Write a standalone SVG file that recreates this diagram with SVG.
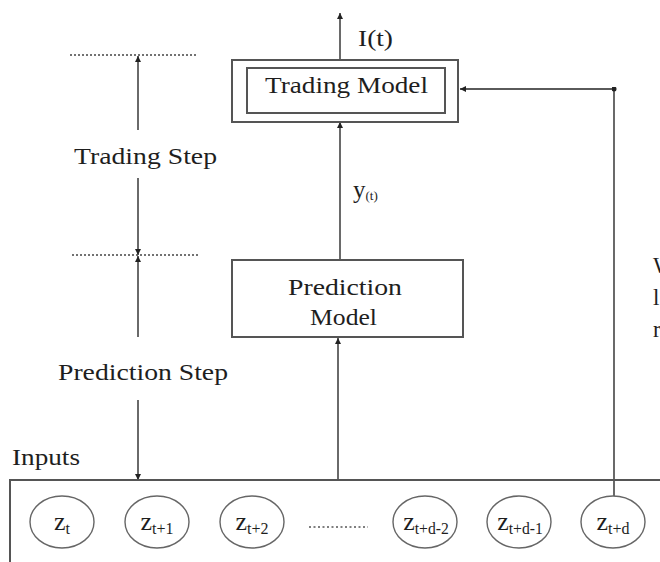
<svg xmlns="http://www.w3.org/2000/svg" width="660" height="562" viewBox="0 0 660 562">
  <style>
    text { font-family: "Liberation Serif", "Times New Roman", serif; fill: #1e1e1e; }
    .lbl { font-size: 23px; }
    .box { fill: none; stroke: #555; stroke-width: 2; }
    .wire { fill: none; stroke: #5a5a5a; stroke-width: 1.8; }
    .guide { fill: none; stroke: #444; stroke-width: 1.6; stroke-dasharray: 2 2; }
    .node { fill: #fff; stroke: #666; stroke-width: 1.4; }
    .zv { font-size: 26px; }
    .zs { font-size: 16px; }
  </style>
  <defs>
    <marker id="tip" viewBox="0 0 10 10" refX="10" refY="5" markerWidth="6" markerHeight="6" orient="auto-start-reverse" markerUnits="userSpaceOnUse">
      <path d="M0,0 L10,5 L0,10 z" fill="#222"/>
    </marker>
    <marker id="dot" viewBox="0 0 10 10" refX="5" refY="5" markerWidth="5" markerHeight="5" markerUnits="userSpaceOnUse">
      <circle cx="5" cy="5" r="5" fill="#222"/>
    </marker>
  </defs>

  <!-- step scale on the left -->
  <g id="step-scale">
    <line class="guide" x1="70" y1="55" x2="198" y2="55"/>
    <line class="guide" x1="72" y1="255" x2="200" y2="255"/>
    <text class="lbl" x="74" y="164" textLength="143" lengthAdjust="spacingAndGlyphs">Trading Step</text>
    <text class="lbl" x="58" y="380" textLength="170" lengthAdjust="spacingAndGlyphs">Prediction Step</text>
  </g>

  <!-- connectors -->
  <g id="connectors">
    <line class="wire" x1="138" y1="130" x2="138" y2="56" marker-end="url(#tip)"/>
    <line class="wire" x1="138" y1="178" x2="138" y2="255" marker-end="url(#tip)"/>
    <line class="wire" x1="138" y1="337" x2="138" y2="256" marker-end="url(#tip)"/>
    <line class="wire" x1="138" y1="400" x2="138" y2="480" marker-end="url(#tip)"/>
    <line class="wire" x1="340" y1="60" x2="340" y2="13" marker-end="url(#tip)"/>
    <line class="wire" x1="340" y1="260" x2="340" y2="122" marker-end="url(#tip)"/>
    <line class="wire" x1="338" y1="480" x2="338" y2="338" marker-end="url(#tip)"/>
    <polyline class="wire" points="614,497 614,89 460,89" marker-mid="url(#dot)" marker-end="url(#tip)"/>
    <text x="358" y="46" font-size="23" textLength="35" lengthAdjust="spacingAndGlyphs">I(t)</text>
    <text x="353" y="198"><tspan font-size="25">y</tspan><tspan font-size="13" dy="2">(t)</tspan></text>
  </g>

  <g id="trading-model">
    <rect class="box" x="232" y="60" width="226" height="62"/>
    <rect class="box" x="247" y="68" width="198" height="45"/>
    <text class="lbl" x="265" y="93" textLength="163" lengthAdjust="spacingAndGlyphs">Trading Model</text>
  </g>

  <g id="prediction-model">
    <rect class="box" x="232" y="260" width="231" height="77"/>
    <text class="lbl" x="288" y="295" textLength="114" lengthAdjust="spacingAndGlyphs">Prediction</text>
    <text class="lbl" x="310" y="325" textLength="67" lengthAdjust="spacingAndGlyphs">Model</text>
  </g>

  <g id="inputs">
    <polyline class="box" points="10,562 10,480 662,480"/>
    <text class="lbl" x="12" y="465" textLength="68" lengthAdjust="spacingAndGlyphs">Inputs</text>
    <line x1="309" y1="527" x2="368" y2="527" stroke="#555" stroke-width="1.5" stroke-dasharray="2 2.5"/>
  </g>

  <g id="z-t">
    <ellipse class="node" cx="62" cy="522" rx="32" ry="26"/>
    <text x="62" y="530" text-anchor="middle"><tspan class="zv">z</tspan><tspan class="zs" dy="4">t</tspan></text>
  </g>
  <g id="z-t1">
    <ellipse class="node" cx="157" cy="522" rx="32" ry="26"/>
    <text x="157" y="530" text-anchor="middle"><tspan class="zv">z</tspan><tspan class="zs" dy="4">t+1</tspan></text>
  </g>
  <g id="z-t2">
    <ellipse class="node" cx="252" cy="522" rx="32" ry="26"/>
    <text x="252" y="530" text-anchor="middle"><tspan class="zv">z</tspan><tspan class="zs" dy="4">t+2</tspan></text>
  </g>
  <g id="z-td2">
    <ellipse class="node" cx="425" cy="522" rx="32" ry="26"/>
    <text x="426" y="530" text-anchor="middle"><tspan class="zv">z</tspan><tspan class="zs" dy="4" textLength="34" lengthAdjust="spacingAndGlyphs">t+d-2</tspan></text>
  </g>
  <g id="z-td1">
    <ellipse class="node" cx="519" cy="522" rx="32" ry="26"/>
    <text x="520" y="530" text-anchor="middle"><tspan class="zv">z</tspan><tspan class="zs" dy="4" textLength="34" lengthAdjust="spacingAndGlyphs">t+d-1</tspan></text>
  </g>
  <g id="z-td">
    <ellipse class="node" cx="613" cy="522" rx="32" ry="26"/>
    <text x="613" y="530" text-anchor="middle"><tspan class="zv">z</tspan><tspan class="zs" dy="4">t+d</tspan></text>
  </g>

  <!-- side note running off the right edge -->
  <g id="side-note">
    <text class="lbl" x="653" y="273">W</text>
    <text class="lbl" x="653" y="305">l</text>
    <text class="lbl" x="653" y="337">r</text>
  </g>
</svg>
